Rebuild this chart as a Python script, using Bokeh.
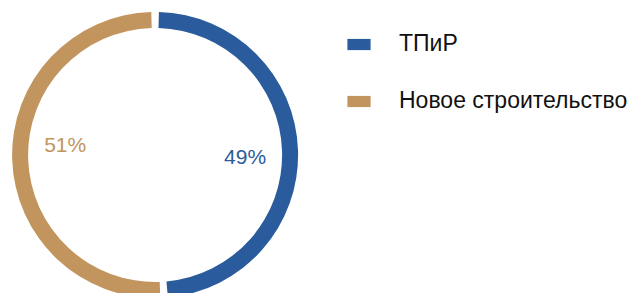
import math
from bokeh.plotting import figure
from bokeh.models import ColumnDataSource, Range1d, Legend, LegendItem
from bokeh.core.properties import value
from bokeh.embed import file_html
from bokeh.resources import INLINE

# ---- data ----
categories = ["ТПиР", "Новое строительство"]
shares = [49, 51]
colors = ["#2A5B9C", "#C1955D"]

# ---- layout ----
W, H = 635, 293
cx, cy = 154.6, 138.5
r_out, r_in = 143.0, 127.0
gap = 3.6 / 135.0          # half-gap in radians
label_r = 90.0
label_nudge_y = [-4.5, 13.0]
FONT = "Liberation Sans"

total = float(sum(shares))
starts, ends, lx, ly, texts = [], [], [], [], []
cum = 0.0
for i, s in enumerate(shares):
    a0 = math.pi / 2 - cum / total * 2 * math.pi
    cum += s
    a1 = math.pi / 2 - cum / total * 2 * math.pi
    starts.append(a0 - gap)
    ends.append(a1 + gap)
    mid = (a0 + a1) / 2
    lx.append(cx + label_r * math.cos(mid))
    ly.append(cy + label_r * math.sin(mid) + label_nudge_y[i])
    texts.append(f"{s}%")

src = ColumnDataSource(dict(cat=categories, start=starts, end=ends,
                            color=colors, lx=lx, ly=ly, txt=texts))

p = figure(width=W, height=H, output_backend="svg", toolbar_location=None,
           x_range=Range1d(0, W), y_range=Range1d(0, H),
           x_axis_type=None, y_axis_type=None, min_border=0,
           outline_line_color=None, tools="")
p.grid.visible = False
p.background_fill_color = "white"

wedges = []
for i in range(len(categories)):
    r = p.annular_wedge(x=cx, y=cy, inner_radius=r_in, outer_radius=r_out,
                        start_angle=starts[i], end_angle=ends[i], direction="clock",
                        fill_color=colors[i], line_color=None)
    wedges.append(r)

p.text(x="lx", y="ly", text="txt", source=src, text_color="color",
       text_align="center", text_baseline="middle",
       text_font=value(FONT), text_font_size="21px")

legend = Legend(items=[LegendItem(label=categories[i], renderers=[wedges[i]]) for i in range(len(categories))],
                location=(344, 179), orientation="vertical",
                glyph_width=29, glyph_height=14, label_standoff=26,
                spacing=30, padding=0, margin=0,
                border_line_color=None, background_fill_alpha=0,
                label_text_font=FONT, label_text_font_size="23px",
                label_text_color="#111111")
p.add_layout(legend)

open("out.html", "w").write(file_html(p, INLINE))
